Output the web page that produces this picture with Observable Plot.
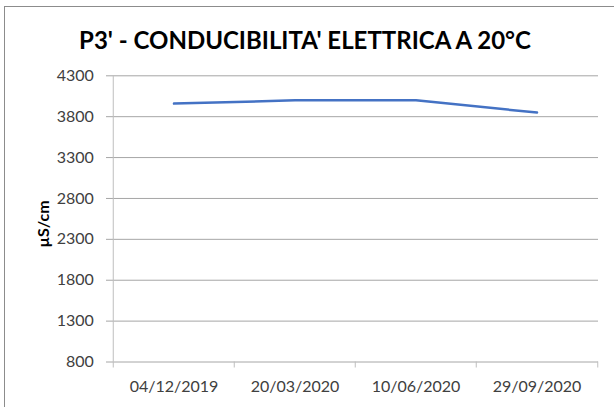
<!DOCTYPE html>
<html>
<head>
<meta charset="utf-8">
<script src="https://cdn.jsdelivr.net/npm/d3@7"></script>
<script src="https://cdn.jsdelivr.net/npm/@observablehq/plot@0.6"></script>
<style>
  html, body { margin: 0; padding: 0; background: #fff; }
  body { width: 614px; height: 407px; overflow: hidden; position: relative; font-family: Lato, "Open Sans", sans-serif; }
  #frame { position: absolute; left: 4px; top: 6px; width: 700px; height: 500px; border-left: 1px solid #8c8c8c; border-top: 1px solid #8c8c8c; }
  #title { position: absolute; top: 27px; left: 0; width: 610px; text-align: center; font-weight: bold; font-size: 24px; line-height: 26px; color: #000; white-space: nowrap; }
  #chart { position: absolute; left: 0; top: 60px; }
</style>
</head>
<body>
<div id="frame"></div>
<div id="title">P3' - CONDUCIBILITA' ELETTRICA A 20°C</div>
<div id="chart"></div>
<script>
const dates = ["04/12/2019", "20/03/2020", "10/06/2020", "29/09/2020"];
const values = [3960, 4000, 4000, 3850];
const yTicks = [800, 1300, 1800, 2300, 2800, 3300, 3800, 4300];
const yLabel = "µS/cm";

const W = 614, H = 347, ML = 112, MR = 16, MT = 15.3, MB = 45.5;
const bw = (W - ML - MR) / dates.length;
const data = dates.map((d, i) => ({date: d, value: values[i]}));

const chart = Plot.plot({
  width: W,
  height: H,
  marginLeft: ML,
  marginRight: MR,
  marginTop: MT,
  marginBottom: MB,
  x: {type: "band", domain: dates, padding: 0},
  y: {domain: [800, 4300]},
  style: {fontFamily: "Lato, 'Open Sans', sans-serif", fontSize: "16px", color: "#404040", background: "transparent"},
  marks: [
    Plot.gridY(yTicks, {stroke: "#a6a6a6", strokeOpacity: 1}),
    Plot.axisY({ticks: yTicks, text: null, tickSize: 6, stroke: "#a6a6a6", strokeOpacity: 1, label: null}),
    Plot.axisY({ticks: yTicks, tickSize: 0, tickPadding: 18.7, tickFormat: d => String(d), fill: "#404040", label: null}),
    Plot.ruleX([dates[0]], {x: d => d, dx: -bw / 2, stroke: "#bfbfbf"}),
    Plot.axisX({ticks: dates, text: null, tickSize: 6, dx: -bw / 2, stroke: "#bfbfbf", strokeOpacity: 1, label: null}),
    Plot.axisX({ticks: [dates[dates.length - 1]], text: null, tickSize: 6, dx: bw / 2, stroke: "#bfbfbf", strokeOpacity: 1, label: null}),
    Plot.axisX({ticks: dates, tickSize: 0, tickPadding: 18.5, fill: "#404040", label: null}),
    Plot.text([yLabel], {frameAnchor: "left", textAnchor: "middle", text: d => d, rotate: -90, dx: -69, dy: 5, fontWeight: "bold", fontSize: 16, fill: "#000"}),
    Plot.line(data, {x: "date", y: "value", stroke: "#4472C4", strokeWidth: 2.5})
  ]
});
document.getElementById("chart").appendChild(chart);
</script>
</body>
</html>
